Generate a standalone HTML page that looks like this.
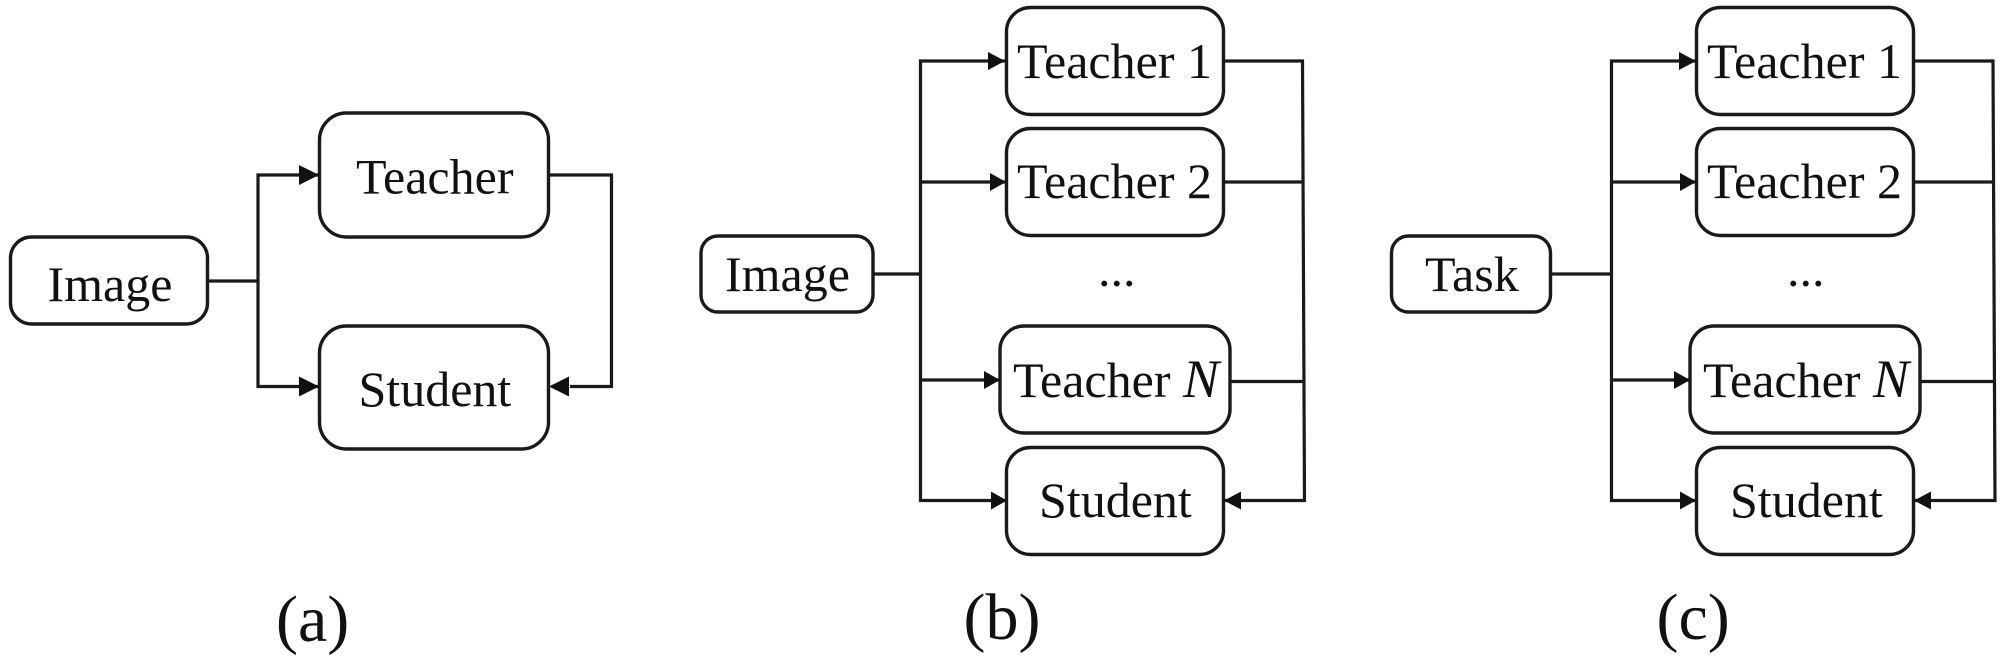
<!DOCTYPE html>
<html><head><meta charset="utf-8"><style>
html,body{margin:0;padding:0;background:#fff;width:2008px;height:659px;overflow:hidden}
svg{display:block}
text{font-family:"Liberation Serif",serif;font-size:50px;fill:#111}
.b{fill:#fff;stroke:#1a1a1a;stroke-width:3.4}
.l{fill:none;stroke:#1a1a1a;stroke-width:3.2}
.a{fill:#111;stroke:none}
.c{font-size:66px}
.d{font-size:50px}
.n{font-style:italic;font-size:54px}
</style></head><body>
<svg width="2008" height="659" viewBox="0 0 2008 659" xmlns="http://www.w3.org/2000/svg">
<!-- (a) -->
<path class="l" d="M208 281H258M319 175H258V386.500H319M549 175H611.500V386.500H570"/>
<rect class="b" x="10.500" y="237" width="197" height="87" rx="21"/>
<rect class="b" x="319.500" y="113" width="229" height="124" rx="27"/>
<rect class="b" x="319.500" y="326" width="229" height="123" rx="27"/>
<path class="a" d="M299 165L319 175L299 185Z"/>
<path class="a" d="M299 376.500L319 386.500L299 396.500Z"/>
<path class="a" d="M549 386.500L569 376.500L569 396.500Z"/>
<text x="47.500" y="301">Image</text>
<text x="356" y="193.500">Teacher</text>
<text x="358.500" y="406">Student</text>
<text class="c" x="276" y="641">(a)</text>
<!-- (b) -->
<path class="l" d="M873 274H920.500M1006 61H920.500V500.500H1006M920.500 182H1006M920.500 380H1000M1223 61H1302.500L1304.500 500.500H1224M1223 182H1303M1230 381.500H1304"/>
<rect class="b" x="701" y="236" width="172" height="76" rx="17"/>
<rect class="b" x="1006.500" y="7.500" width="217" height="107" rx="24"/>
<rect class="b" x="1006.500" y="128.500" width="217" height="107" rx="24"/>
<rect class="b" x="1000" y="326" width="230" height="107" rx="24"/>
<rect class="b" x="1006.500" y="447.500" width="217" height="107" rx="24"/>
<path class="a" d="M988 52L1005 61L988 70Z"/>
<path class="a" d="M990 173L1006 182L990 191Z"/>
<path class="a" d="M984 371L1000 380L984 389Z"/>
<path class="a" d="M991 491.500L1007 500.500L991 509.500Z"/>
<path class="a" d="M1224 500.500L1241 491.500L1241 509.500Z"/>
<text x="725" y="291">Image</text>
<text x="1017" y="78">Teacher 1</text>
<text x="1017" y="198">Teacher 2</text>
<text x="1013" y="397">Teacher <tspan class="n">N</tspan></text>
<text x="1039" y="517">Student</text>
<text class="d" x="1098" y="286">...</text>
<text class="c" x="963.500" y="639">(b)</text>
<!-- (c) -->
<path class="l" d="M1551 274H1611.500M1696 61H1611.500V500.500H1696M1611.500 182H1696M1611.500 380H1690M1913 61H1993L1995 500.500H1915M1913 182H1994M1919 381.500H1995"/>
<rect class="b" x="1391.500" y="236" width="159" height="76" rx="17"/>
<rect class="b" x="1696.500" y="7.500" width="217" height="107" rx="24"/>
<rect class="b" x="1696.500" y="128.500" width="217" height="107" rx="24"/>
<rect class="b" x="1690" y="326" width="230" height="107" rx="24"/>
<rect class="b" x="1696.500" y="447.500" width="217" height="107" rx="24"/>
<path class="a" d="M1679 52L1696 61L1679 70Z"/>
<path class="a" d="M1680 173L1696 182L1680 191Z"/>
<path class="a" d="M1674 371L1690 380L1674 389Z"/>
<path class="a" d="M1680 491.500L1696 500.500L1680 509.500Z"/>
<path class="a" d="M1914 500.500L1931 491.500L1931 509.500Z"/>
<text x="1425" y="291">Task</text>
<text x="1707" y="78">Teacher 1</text>
<text x="1707" y="198">Teacher 2</text>
<text x="1703" y="397">Teacher <tspan class="n">N</tspan></text>
<text x="1730" y="517">Student</text>
<text class="d" x="1787" y="286">...</text>
<text class="c" x="1656.500" y="639">(c)</text>
</svg>
</body></html>
